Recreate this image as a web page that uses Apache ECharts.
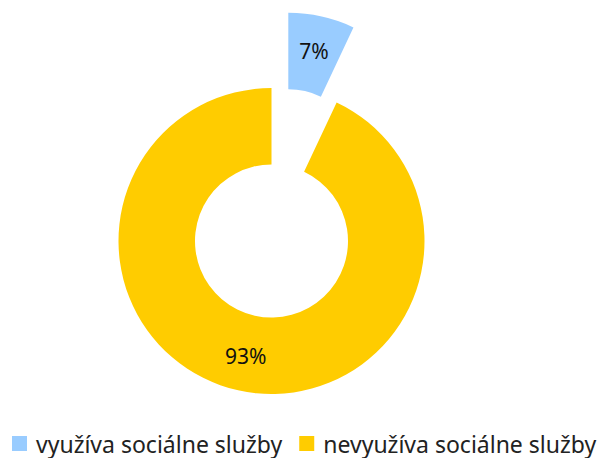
<!DOCTYPE html>
<html>
<head>
<meta charset="utf-8">
<script src="https://cdn.jsdelivr.net/npm/echarts@6/dist/echarts.min.js"></script>
<style>
  html, body { margin: 0; padding: 0; background: #ffffff; }
  #chart { width: 602px; height: 458px; }
</style>
</head>
<body>
<div id="chart"></div>
<script>
(function() {
    var categories = ['využíva sociálne služby', 'nevyužíva sociálne služby'];
    var values = [7, 93];
    var colors = ['#99CCFF', '#FFCC00'];

    var chart = echarts.init(document.getElementById('chart'), null, { renderer: 'svg' });

    var data = categories.map(function(name, i) {
        return {
            name: name,
            value: values[i],
            selected: i === 0,
            itemStyle: { color: colors[i] }
        };
    });

    chart.setOption({
        animation: false,
        legend: {
            data: categories,
            left: 12,
            top: 432,
            padding: 0,
            itemWidth: 15,
            itemHeight: 15,
            itemGap: 17,
            icon: 'rect',
            textStyle: { color: '#222222', fontSize: 23, fontFamily: 'Noto Sans', padding: [0, 0, 0, 4] }
        },
        series: [
            {
                type: 'pie',
                center: [271.5, 241],
                radius: [76.5, 153],
                startAngle: 90,
                clockwise: true,
                selectedMode: 'single',
                selectedOffset: 77,
                avoidLabelOverlap: false,
                label: {
                    show: true,
                    position: 'inside',
                    formatter: '{d}%',
                    color: '#111111',
                    fontSize: 21,
                    fontFamily: 'Noto Sans'
                },
                labelLine: { show: false },
                emphasis: { disabled: true },
                data: data
            }
        ]
    });
    window.addEventListener('resize', function() { chart.resize(); });
})();
</script>
</body>
</html>
